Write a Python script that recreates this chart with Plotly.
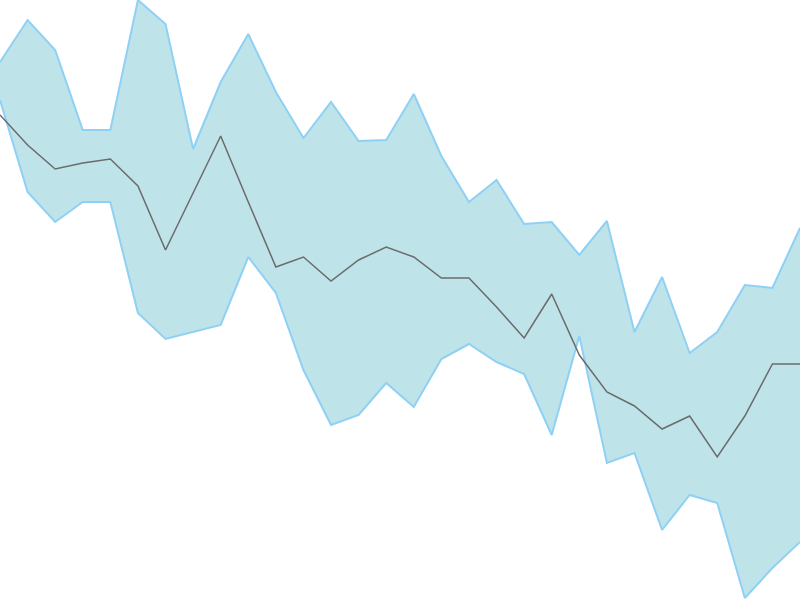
import plotly.graph_objects as go

# values (pixel height above the bottom edge, 600 = top)
steps = list(range(30))
upper = [538, 580, 550, 470, 470, 600, 576, 451, 518, 566,
         508, 462, 498, 459, 460, 506, 444, 398, 420, 376,
         378, 345, 379, 268, 323, 247, 268, 315, 312, 372]
lower = [500, 408, 378, 398, 398, 287, 261, 268, 275, 343,
         307, 230, 175, 185, 217, 193, 241, 256, 238, 226,
         165, 264, 137, 147, 70, 105, 97, 2, 32, 58]
middle = [485, 455, 431, 437, 441, 414, 350, 407, 464, 398,
          333, 343, 319, 340, 353, 343, 322, 322, 293, 262,
          306, 245, 208, 194, 171, 184, 143, 184, 236, 236]

band_line = "#8fd0f5"
band_fill = "rgb(190,227,233)"

fig = go.Figure()
fig.add_trace(go.Scatter(x=steps, y=upper, mode="lines",
                         line=dict(color=band_line, width=2),
                         hoverinfo="skip", showlegend=False))
fig.add_trace(go.Scatter(x=steps, y=lower, mode="lines", fill="tonexty",
                         fillcolor=band_fill,
                         line=dict(color=band_line, width=2),
                         hoverinfo="skip", showlegend=False))
fig.add_trace(go.Scatter(x=steps, y=middle, mode="lines",
                         line=dict(color="#6b6b6b", width=1.5),
                         showlegend=False))

fig.update_layout(
    width=800, height=600,
    margin=dict(l=0, r=0, t=0, b=0),
    paper_bgcolor="white", plot_bgcolor="white",
    xaxis=dict(visible=False, range=[0, 29]),
    yaxis=dict(visible=False, range=[0, 600]),
)

# drop the page's default body margin so the chart sits flush in the window
fig.write_html(
    "out.html",
    config={"displayModeBar": False},
    post_script="document.body.style.margin='0';document.body.style.overflow='hidden';",
)
